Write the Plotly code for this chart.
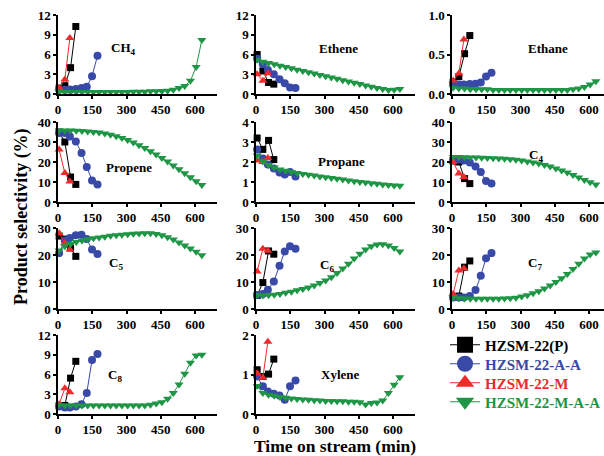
import plotly.graph_objects as go

# ---------------- data ----------------
t_P = [5, 30, 55, 78]
t_AA = [5, 30, 52, 78, 103, 126, 149, 173]
t_M = [5, 30, 52]
t_MAA = [5, 30, 55, 80, 105, 130, 155, 180, 205, 230, 255, 280, 305, 330, 355,
         380, 405, 430, 455, 480, 505, 530, 555, 580, 605, 630]

series_names = ["HZSM-22(P)", "HZSM-22-A-A", "HZSM-22-M", "HZSM-22-M-A-A"]

panel_labels = ["CH<sub>4</sub>", "Ethene", "Ethane", "Propene", "Propane", "C<sub>4</sub>",
                "C<sub>5</sub>", "C<sub>6</sub>", "C<sub>7</sub>", "C<sub>8</sub>", "Xylene"]

# CH4
CH4_P = [0.9, 1.26, 4.0, 10.25]
CH4_AA = [0.75, 0.65, 0.7, 0.75, 0.9, 1.1, 2.7, 5.8]
CH4_M = [0.9, 2.2, 8.5]
CH4_MAA = [0.3, 0.3, 0.3, 0.3, 0.3, 0.3, 0.3, 0.3, 0.3, 0.3, 0.3, 0.3, 0.3, 0.35, 0.35,
           0.35, 0.4, 0.4, 0.45, 0.5, 0.65, 0.9, 1.2, 2.0, 4.1, 8.2]
# Ethene
ETHENE_P = [6.0, 3.5, 1.75, 1.5]
ETHENE_AA = [5.35, 4.5, 3.65, 3.0, 2.25, 1.65, 1.0, 0.9]
ETHENE_M = [3.0, 2.0, 3.15]
ETHENE_MAA = [5.2, 4.9, 4.7, 4.5, 4.3, 4.1, 3.9, 3.7, 3.5, 3.3, 3.1, 2.9, 2.7, 2.5, 2.3,
              2.1, 1.9, 1.7, 1.5, 1.3, 1.1, 0.9, 0.75, 0.6, 0.65, 0.75]
# Ethane
ETHANE_P = [0.15, 0.22, 0.51, 0.74]
ETHANE_AA = [0.125, 0.12, 0.12, 0.125, 0.13, 0.145, 0.22, 0.27]
ETHANE_M = [0.17, 0.26, 0.69]
ETHANE_MAA = [0.08, 0.07, 0.07, 0.06, 0.06, 0.06, 0.06, 0.05, 0.05, 0.05, 0.05, 0.05, 0.05,
              0.05, 0.05, 0.05, 0.05, 0.05, 0.05, 0.05, 0.05, 0.06, 0.07, 0.09, 0.12, 0.16]
# Propene
PROPENE_P = [35.0, 30.0, 12.5, 8.8]
PROPENE_AA = [34.5, 34.5, 32.8, 30.3, 24.5, 17.5, 10.8, 8.8]
PROPENE_M = [26.2, 14.5, 10.3]
PROPENE_MAA = [35.8, 35.8, 35.7, 35.6, 35.5, 35.3, 35.0, 34.7, 34.2, 33.6, 32.9, 32.0, 31.0,
               29.8, 28.4, 27.0, 25.4, 23.8, 22.0, 20.2, 18.3, 16.4, 14.4, 12.4, 10.4, 8.5]
# Propane
PROPANE_P = [3.2, 2.63, 3.08, 2.12]
PROPANE_AA = [2.63, 2.17, 1.87, 1.67, 1.47, 1.37, 1.5, 1.28]
PROPANE_M = [2.08, 2.0, 2.2]
PROPANE_MAA = [2.33, 2.03, 1.85, 1.72, 1.63, 1.56, 1.5, 1.45, 1.4, 1.36, 1.32, 1.28, 1.24,
               1.2, 1.16, 1.12, 1.08, 1.04, 1.0, 0.97, 0.94, 0.91, 0.88, 0.85, 0.83, 0.81]
# C4
C4_P = [20.5, 20.0, 11.7, 9.2]
C4_AA = [21.3, 21.3, 20.8, 19.7, 17.8, 15.0, 10.5, 9.2]
C4_M = [20.0, 14.2, 12.5]
C4_MAA = [22.5, 22.5, 22.4, 22.3, 22.2, 22.1, 22.0, 21.9, 21.8, 21.6, 21.4, 21.1, 20.8,
          20.3, 19.8, 19.2, 18.5, 17.7, 16.8, 15.8, 14.7, 13.5, 12.3, 11.0, 9.9, 8.8]
# C5
C5_P = [27.0, 25.9, 22.6, 19.5]
C5_AA = [20.7, 25.4, 26.3, 27.3, 27.5, 25.9, 22.0, 20.4]
C5_M = [28.1, 24.4, 22.0]
C5_MAA = [21.7, 23.2, 24.1, 24.8, 25.4, 25.8, 26.2, 26.5, 26.8, 27.1, 27.3, 27.5, 27.7,
          27.9, 28.0, 28.1, 28.1, 27.8, 27.3, 26.6, 25.7, 24.6, 23.5, 22.4, 21.2, 19.9]
# C6
C6_P = [5.0, 9.8, 21.5, 20.3]
C6_AA = [5.2, 5.6, 7.1, 10.2, 16.0, 21.3, 23.2, 22.3]
C6_M = [13.9, 22.3, 21.6]
C6_MAA = [5.2, 5.0, 5.1, 5.3, 5.6, 6.0, 6.4, 6.9, 7.4, 8.0, 8.7, 9.6, 10.6, 11.8, 13.3,
          15.0, 16.8, 18.7, 20.5, 22.0, 23.2, 23.9, 24.0, 23.5, 22.6, 21.3]
# C7
C7_P = [4.5, 4.8, 15.5, 17.8]
C7_AA = [4.3, 4.3, 4.3, 4.8, 7.0, 12.3, 18.8, 20.7]
C7_M = [5.6, 14.3, 15.1]
C7_MAA = [4.3, 4.0, 3.9, 3.8, 3.8, 3.8, 3.8, 3.8, 3.8, 3.9, 4.0, 4.2, 4.6, 5.1, 5.8, 6.6,
          7.6, 8.7, 10.0, 11.4, 13.0, 14.8, 16.8, 18.7, 20.2, 20.9]
# C8
C8_P = [1.2, 1.3, 5.45, 8.0]
C8_AA = [1.15, 1.0, 1.0, 1.15, 1.5, 3.2, 8.2, 9.1]
C8_M = [1.5, 3.9, 3.3]
C8_MAA = [1.4, 1.3, 1.3, 1.3, 1.3, 1.3, 1.3, 1.3, 1.3, 1.3, 1.3, 1.3, 1.3, 1.3, 1.3, 1.3,
          1.4, 1.6, 1.8, 2.3, 3.2, 4.5, 6.1, 7.8, 8.9, 9.0]
# Xylene
XYL_P = [1.12, 0.95, 1.01, 1.39]
XYL_AA = [0.95, 0.7, 0.57, 0.51, 0.47, 0.36, 0.7, 0.85]
XYL_M = [1.03, 0.92, 1.83]
XYL_MAA = [0.71, 0.53, 0.49, 0.46, 0.43, 0.41, 0.39, 0.38, 0.37, 0.36, 0.35, 0.34, 0.33,
           0.33, 0.32, 0.32, 0.31, 0.31, 0.30, 0.24, 0.28, 0.29, 0.34, 0.53, 0.74, 0.93]

y_max = [12, 12, 1.0, 40, 4, 40, 30, 30, 30, 12, 2]
y_dtick = [3, 3, 0.5, 10, 1, 10, 10, 10, 10, 3, 1]
x_ticks = [0, 150, 300, 450, 600]

panel_data = [
    (CH4_P, CH4_AA, CH4_M, CH4_MAA),
    (ETHENE_P, ETHENE_AA, ETHENE_M, ETHENE_MAA),
    (ETHANE_P, ETHANE_AA, ETHANE_M, ETHANE_MAA),
    (PROPENE_P, PROPENE_AA, PROPENE_M, PROPENE_MAA),
    (PROPANE_P, PROPANE_AA, PROPANE_M, PROPANE_MAA),
    (C4_P, C4_AA, C4_M, C4_MAA),
    (C5_P, C5_AA, C5_M, C5_MAA),
    (C6_P, C6_AA, C6_M, C6_MAA),
    (C7_P, C7_AA, C7_M, C7_MAA),
    (C8_P, C8_AA, C8_M, C8_MAA),
    (XYL_P, XYL_AA, XYL_M, XYL_MAA),
]

# ---------------- styling ----------------
W, H = 604, 456
FONT = "Liberation Serif"
colors = ["#000000", "#3949a8", "#ee2a2a", "#1e9645"]
symbols = ["square", "circle", "triangle-up", "triangle-down"]
msizes = [7, 8, 8, 8]
times = [t_P, t_AA, t_M, t_MAA]

col_px = [(58, 217), (256, 415), (452, 604)]
row_px = [(15, 94), (122, 202), (228, 309), (335, 414)]
label_px = [(123, 48), (338, 48), (548, 48), (129, 167), (341, 161), (536, 156),
            (116, 263), (327, 265), (535, 263), (115, 375), (340, 374)]
legend_py = [345, 364, 383, 402]

fig = go.Figure()
layout = {}
for i, data in enumerate(panel_data):
    r, c = divmod(i, 3)
    ax = "" if i == 0 else str(i + 1)
    x0, x1 = col_px[c]
    y0, y1 = row_px[r]
    xr = (x1 - x0) / 137.0 * 600
    for k in range(4):
        fig.add_trace(go.Scatter(
            x=times[k], y=data[k], mode="lines+markers",
            line=dict(color=colors[k], width=1),
            marker=dict(symbol=symbols[k], size=msizes[k], color=colors[k]),
            showlegend=False, cliponaxis=False,
            xaxis="x" + ax, yaxis="y" + ax))
    common = dict(showline=True, linecolor="black", linewidth=1.5, ticks="outside",
                  ticklen=3, tickwidth=1.5, tickcolor="black", showgrid=False,
                  zeroline=False, automargin=False,
                  tickfont=dict(family=FONT, size=13, color="black", weight="bold"))
    layout["xaxis" + ax] = dict(domain=[x0 / W, x1 / W], range=[0, xr],
                                anchor="y" + ax, tickvals=x_ticks, **common)
    layout["yaxis" + ax] = dict(domain=[1 - y1 / H, 1 - y0 / H], range=[0, y_max[i]],
                                anchor="x" + ax, dtick=y_dtick[i], tick0=0,
                                tickformat=".1f" if i == 2 else None, **common)

# legend traces, one legend per entry so the spacing matches
for k in range(4):
    lname = "legend" if k == 0 else "legend%d" % (k + 1)
    fig.add_trace(go.Scatter(
        x=[None], y=[None], mode="lines+markers",
        name='<span style="color:%s">%s</span>' % (colors[k], series_names[k]),
        line=dict(color=colors[k], width=1),
        marker=dict(symbol=symbols[k], size=16, color=colors[k]),
        legend=lname, xaxis="x", yaxis="y"))
    layout[lname] = dict(x=445 / W, y=1 - legend_py[k] / H, xanchor="left",
                         yanchor="middle", bgcolor="rgba(0,0,0,0)",
                         font=dict(family=FONT, size=15, weight="bold"))

annotations = []
for i, (px, py) in enumerate(label_px):
    annotations.append(dict(text=panel_labels[i], x=px / W, y=1 - py / H, xref="paper",
                            yref="paper", showarrow=False, xanchor="center", yanchor="middle",
                            font=dict(family=FONT, size=13, color="black", weight="bold")))
annotations.append(dict(text="Time on stream (min)", x=335 / W, y=1 - 446 / H, xref="paper",
                        yref="paper", showarrow=False, xanchor="center", yanchor="middle",
                        font=dict(family=FONT, size=17.5, color="black", weight="bold")))
annotations.append(dict(text="Product selectivity (%)", x=21 / W, y=1 - 217 / H,
                        xref="paper", yref="paper", showarrow=False, textangle=-90,
                        xanchor="center", yanchor="middle",
                        font=dict(family=FONT, size=18, color="black", weight="bold")))

fig.update_layout(
    width=W, height=H, margin=dict(l=0, r=0, t=0, b=0, autoexpand=False),
    paper_bgcolor="white", plot_bgcolor="white",
    font=dict(family=FONT, color="black", weight="bold"),
    showlegend=True,
    annotations=annotations,
    **layout)

fig.write_html("out.html")
